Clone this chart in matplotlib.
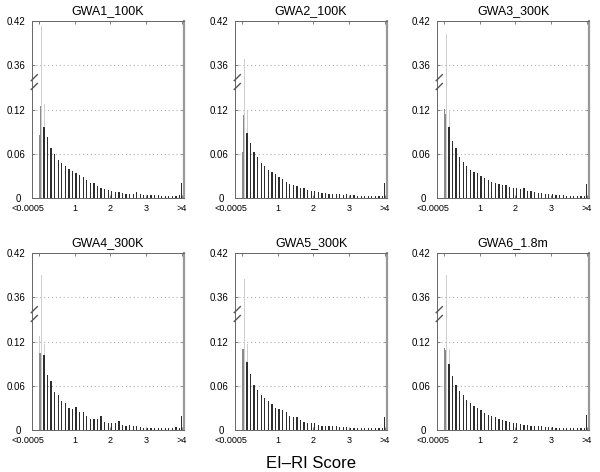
import numpy as np
import matplotlib
matplotlib.use("Agg")
import matplotlib.pyplot as plt
import matplotlib.transforms as mtransforms

plt.rcParams['font.family'] = ['Liberation Sans', 'DejaVu Sans']

# panel titles
titles = ["GWA1_100K", "GWA2_100K", "GWA3_300K", "GWA4_300K", "GWA5_300K", "GWA6_1.8m"]

# bars right at zero (mid gray), at x = 0, 0.025, 0.05
near_x = [0.0, 0.025, 0.05]
near_mid = [
    [0.024, 0.085, 0.125],
    [0.063, 0.0, 0.113],
    [0.121, 0.114, 0.0],
    [0.099, 0.105, 0.0],
    [0.090, 0.110, 0.0],
    [0.111, 0.108, 0.0],
]
near_light = [
    [0.0, 0.0, 0.0],
    [0.0, 0.134, 0.0],
    [0.0, 0.0, 0.0],
    [0.127, 0.0, 0.0],
    [0.0, 0.128, 0.0],
    [0.0, 0.140, 0.0],
]
# tall light spike near zero and second light bar
spike_x = 0.065
spike = [0.413, 0.369, 0.402, 0.390, 0.385, 0.390]
second_x = 0.15
second = [0.128, 0.118, 0.120, 0.116, 0.117, 0.110]

# main bins, centres 0.135 ... 3.935
tail_x = [0.1 * k + 0.035 for k in range(1, 40)]
tail = [
    [0.096, 0.083, 0.068, 0.060, 0.052, 0.047, 0.043, 0.040, 0.037, 0.034,
     0.031, 0.028, 0.025, 0.021, 0.020, 0.0165, 0.014, 0.012, 0.011, 0.009,
     0.008, 0.0078, 0.007, 0.006, 0.0055, 0.006, 0.008, 0.005, 0.0045, 0.004,
     0.004, 0.0035, 0.0035, 0.003, 0.003, 0.003, 0.003, 0.0028, 0.0035],
    [0.088, 0.075, 0.062, 0.055, 0.048, 0.044, 0.038, 0.035, 0.033, 0.029,
     0.026, 0.022, 0.019, 0.018, 0.016, 0.014, 0.013, 0.011, 0.010, 0.009,
     0.008, 0.007, 0.007, 0.006, 0.006, 0.005, 0.005, 0.004, 0.005, 0.004,
     0.004, 0.003, 0.003, 0.003, 0.003, 0.003, 0.003, 0.003, 0.003],
    [0.096, 0.077, 0.068, 0.056, 0.049, 0.043, 0.038, 0.035, 0.034, 0.030,
     0.027, 0.025, 0.022, 0.020, 0.019, 0.018, 0.017, 0.015, 0.014, 0.014,
     0.012, 0.013, 0.009, 0.009, 0.008, 0.007, 0.007, 0.006, 0.005, 0.005,
     0.004, 0.004, 0.004, 0.003, 0.003, 0.003, 0.003, 0.003, 0.003],
    [0.102, 0.075, 0.066, 0.052, 0.048, 0.039, 0.036, 0.030, 0.029, 0.031,
     0.024, 0.024, 0.019, 0.015, 0.015, 0.015, 0.019, 0.011, 0.010, 0.010,
     0.009, 0.012, 0.007, 0.006, 0.007, 0.006, 0.005, 0.0045, 0.003, 0.003,
     0.003, 0.003, 0.003, 0.003, 0.003, 0.003, 0.003, 0.004, 0.003],
    [0.092, 0.076, 0.061, 0.054, 0.048, 0.043, 0.039, 0.035, 0.030, 0.029,
     0.027, 0.025, 0.019, 0.018, 0.017, 0.013, 0.011, 0.010, 0.010, 0.009,
     0.007, 0.006, 0.006, 0.005, 0.005, 0.005, 0.004, 0.004, 0.004, 0.003,
     0.003, 0.003, 0.003, 0.003, 0.003, 0.003, 0.003, 0.003, 0.003],
    [0.089, 0.073, 0.061, 0.053, 0.047, 0.041, 0.037, 0.032, 0.030, 0.027,
     0.023, 0.021, 0.019, 0.017, 0.015, 0.013, 0.012, 0.011, 0.010, 0.009,
     0.008, 0.007, 0.007, 0.006, 0.006, 0.005, 0.005, 0.004, 0.004, 0.004,
     0.003, 0.003, 0.003, 0.003, 0.003, 0.003, 0.003, 0.003, 0.003],
]
over4 = [0.020, 0.020, 0.019, 0.019, 0.018, 0.020]

xticks = [0, 1, 2, 3, 4]
xticklabels = ["<0.0005", "1", "2", "3", ">4"]
ytick_vals = [0, 0.06, 0.12, 0.36, 0.42]
ytick_labels = ["0", "0.06", "0.12", "0.36", "0.42"]

CUT = 0.18  # size of the removed range 0.15..0.33


def disp(v):
    # broken axis: values above the break are shifted down
    v = np.asarray(v, dtype=float)
    return np.where(v > 0.15, v - CUT, v)


fig = plt.figure(figsize=(6, 4.72), dpi=100)
lefts = [32, 235, 437]
bottoms = [1 - 198 / 472, 1 - 430 / 472]
w = 152 / 600
h = 177 / 472

dark = '#2e2e2e'
mid = '#8a8a8a'
light = '#cfcfcf'

for i in range(6):
    r, c = divmod(i, 3)
    ax = fig.add_axes([lefts[c] / 600, bottoms[r], w, h])

    for y in [0.06, 0.12, 0.36]:
        ax.axhline(disp(y), color='#b0b0b0', lw=0.8, ls=(0, (1, 2.5)), zorder=0)

    ax.bar(spike_x, disp(spike[i]), width=0.022, color=light, zorder=1)
    ax.bar(second_x, disp(second[i]), width=0.025, color=light, zorder=1)
    ax.bar(near_x, disp(near_light[i]), width=0.025, color=light, zorder=1)
    ax.bar(near_x, disp(near_mid[i]), width=0.03, color=mid, zorder=2)
    ax.bar(tail_x, disp(tail[i]), width=0.035, color=dark, zorder=2)
    ax.bar(4.0, disp(over4[i]), width=0.035, color=dark, zorder=2)

    ax.set_xlim(-0.2, 4.06)
    ax.set_ylim(0, 0.24)
    ax.set_xticks(xticks)
    ax.set_xticklabels(xticklabels)
    ax.set_yticks(disp(ytick_vals))
    ax.set_yticklabels(ytick_labels)
    ax.tick_params(axis='x', labelsize=6.5, pad=4)
    ax.tick_params(axis='y', labelsize=7, pad=5)
    ax.tick_params(length=2.5, width=0.6, color='#666666',
                   direction='in', top=True, right=True)
    # first x label sits a bit left of its tick
    lab0 = ax.get_xticklabels()[0]
    lab0.set_horizontalalignment('right')
    lab0.set_transform(lab0.get_transform() +
                       mtransforms.ScaledTranslation(5 / 100, 0, fig.dpi_scale_trans))
    # the "0" label sits a little further left
    laby = ax.get_yticklabels()[0]
    laby.set_transform(laby.get_transform() +
                       mtransforms.ScaledTranslation(-4 / 100, 0, fig.dpi_scale_trans))

    for s in ['left', 'top', 'bottom']:
        ax.spines[s].set_color('#666666')
        ax.spines[s].set_linewidth(0.7)
    ax.spines['right'].set_color('#999999')
    ax.spines['right'].set_linewidth(1.6)
    ax.set_title(titles[i], fontsize=9, pad=5)

    # break marks on the left spine
    for yb in [disp(0.15) / 0.24 + 0.005, disp(0.15) / 0.24 + 0.055]:
        ax.plot([-0.005, 0.035], [yb - 0.017, yb + 0.017], color='#555555',
                lw=1.0, transform=ax.transAxes, clip_on=False, zorder=5)

fig.text(311 / 600, 1 - 463 / 472, "EI\u2013RI Score", ha='center', va='center', fontsize=12)

plt.savefig("out.png", dpi=100)
